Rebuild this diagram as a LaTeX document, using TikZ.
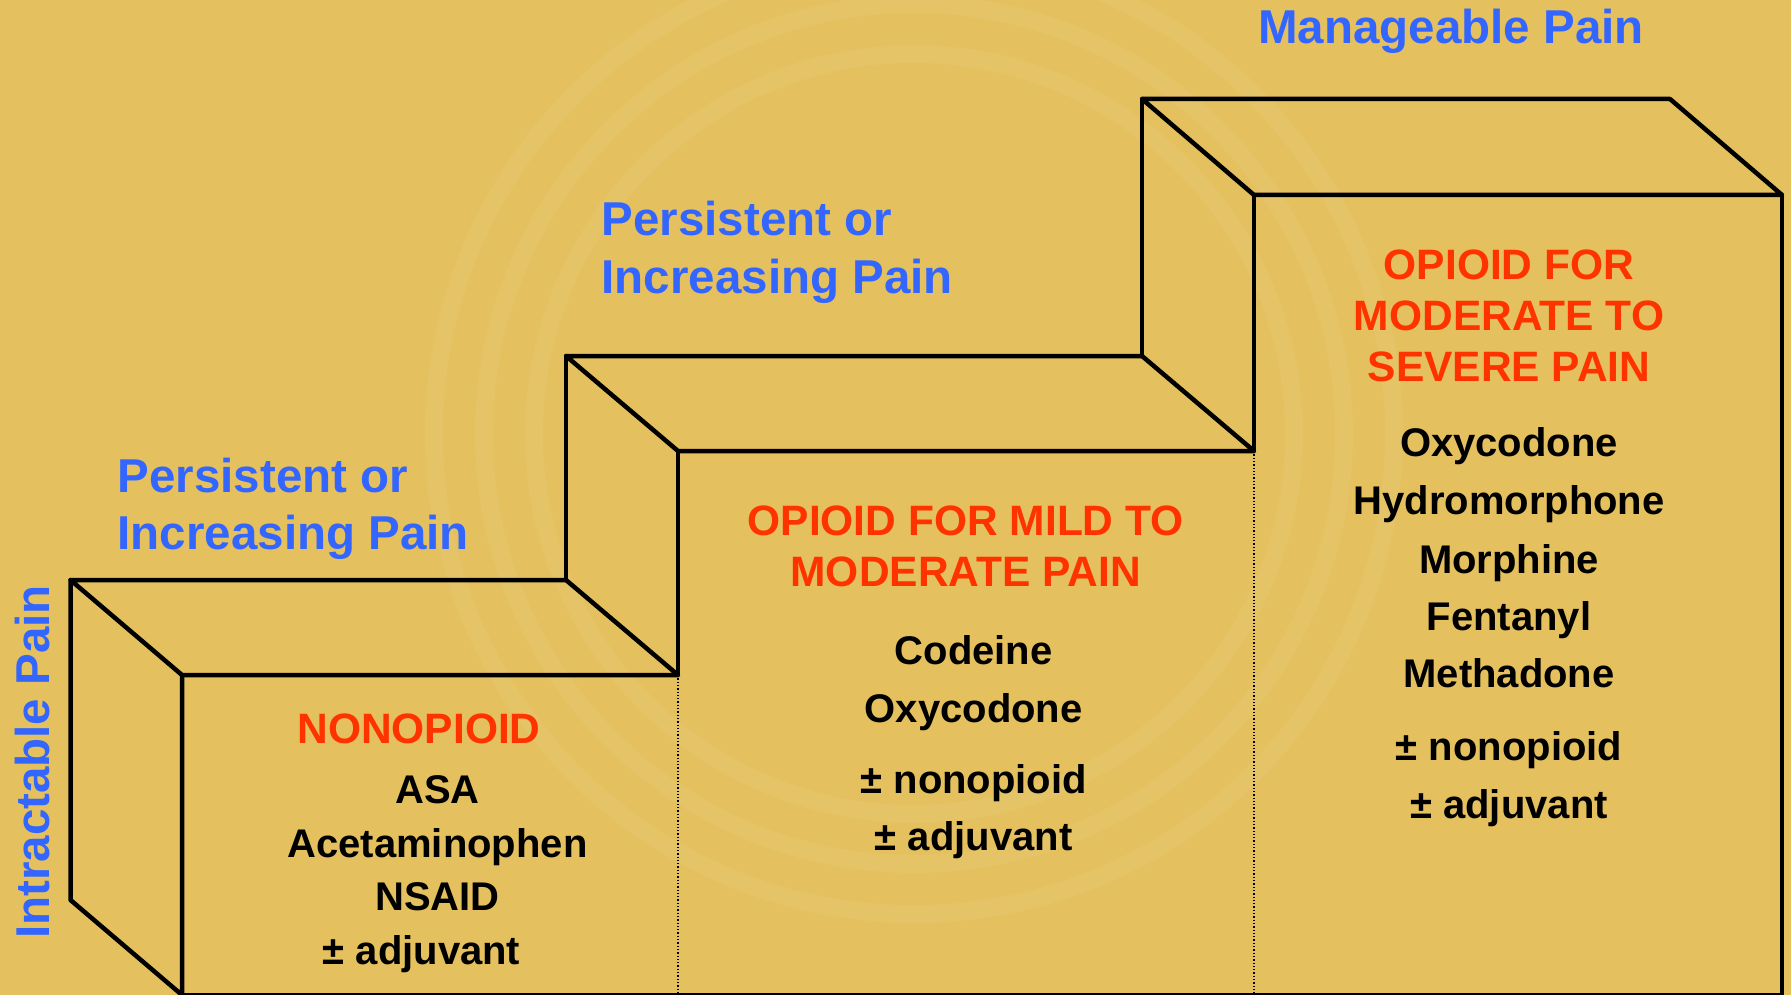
\documentclass[tikz,border=0pt]{standalone}
\usepackage{fontspec}
\setmainfont{Liberation Sans}
\definecolor{stepbg}{HTML}{E4C05F}
\definecolor{painblue}{HTML}{3366FF}
\definecolor{drugred}{HTML}{FF3300}
\tikzset{
  edge/.style={line width=4.5pt, line cap=round, line join=round},
  guide/.style={line width=1.3pt, dotted},
  painlabel/.style={text=painblue, font=\fontsize{47.5}{57}\selectfont\bfseries, inner sep=0pt},
  stephead/.style={text=drugred, font=\fontsize{42.5}{51}\selectfont\bfseries, inner sep=0pt, anchor=base},
  drug/.style={font=\fontsize{40}{48}\selectfont\bfseries, inner sep=0pt, anchor=base}
}
\begin{document}
\begin{tikzpicture}[x=1pt,y=-1pt]
\fill[stepbg] (0,0) rectangle (1791,995);
\useasboundingbox (0,0) rectangle (1791,995);
\begin{scope}
  \clip (0,0) rectangle (1791,995);
  \foreach \r in {380,430,480}
    \draw[white, opacity=0.05, line width=18pt] (914,434) circle (\r pt);
\end{scope}

\coordinate (a1) at (70.5,580);  \coordinate (b1) at (566,580);
\coordinate (c1) at (182,675);   \coordinate (d1) at (678,675);
\coordinate (e1) at (70.5,900);  \coordinate (f1) at (182,995);
\coordinate (a2) at (566,356);   \coordinate (b2) at (1142,356);
\coordinate (c2) at (678,451);   \coordinate (d2) at (1254,451);
\coordinate (a3) at (1142,99);   \coordinate (b3) at (1670,99);
\coordinate (c3) at (1254,195);  \coordinate (d3) at (1782,195);
\coordinate (g3) at (1782,995);

\draw[edge] (a1) -- (b1) -- (d1) -- (c1) -- cycle;
\draw[edge] (a1) -- (e1) -- (f1) -- (c1);
\draw[edge] (a2) -- (b1);
\draw[edge] (c2) -- (d1);
\draw[edge] (a2) -- (b2) -- (d2) -- (c2) -- cycle;
\draw[edge] (a3) -- (b2);
\draw[edge] (c3) -- (d2);
\draw[edge] (a3) -- (b3) -- (d3) -- (c3) -- cycle;
\draw[edge] (d3) -- (g3) -- (f1);
\draw[guide] (d1) -- (d1 |- f1);
\draw[guide] (d2) -- (d2 |- f1);

\node[painlabel, anchor=base] (manage) at (1451,44) {Manageable Pain};
\node[painlabel, anchor=base west] (persistB) at (601.5,236) {Persistent or};
\node[painlabel, anchor=base west] (increaseB) at (601.5,293) {Increasing Pain};
\node[painlabel, anchor=base west] (persistA) at (117.5,492) {Persistent or};
\node[painlabel, anchor=base west] (increaseA) at (117.5,549) {Increasing Pain};
\node[painlabel, anchor=base, rotate=90] (intract) at (49.5,762) {Intractable Pain};

\node[stephead] (headA) at (419,743) {NONOPIOID};
\node[stephead] (headB1) at (965.7,535) {OPIOID FOR MILD TO};
\node[stephead] (headB2) at (965.7,586) {MODERATE PAIN};
\node[stephead] (headC1) at (1509,279) {OPIOID FOR};
\node[stephead] (headC2) at (1509,330) {MODERATE TO};
\node[stephead] (headC3) at (1509,381) {SEVERE PAIN};

\foreach \drugname/\y [count=\i] in {ASA/803, Acetaminophen/857, NSAID/910}
  \node[drug] (mild\i) at (437.5,\y) {\drugname};
\node[drug] (mildadj) at (421.5,964) {± adjuvant};
\foreach \drugname/\y [count=\i] in {Codeine/664, Oxycodone/722, ± nonopioid/793, ± adjuvant/850}
  \node[drug] (weak\i) at (973.7,\y) {\drugname};
\foreach \drugname/\y [count=\i] in {Oxycodone/456, Hydromorphone/514, Morphine/573, Fentanyl/630, Methadone/687, ± nonopioid/760, ± adjuvant/818}
  \node[drug] (strong\i) at (1509,\y) {\drugname};
\end{tikzpicture}
\end{document}
